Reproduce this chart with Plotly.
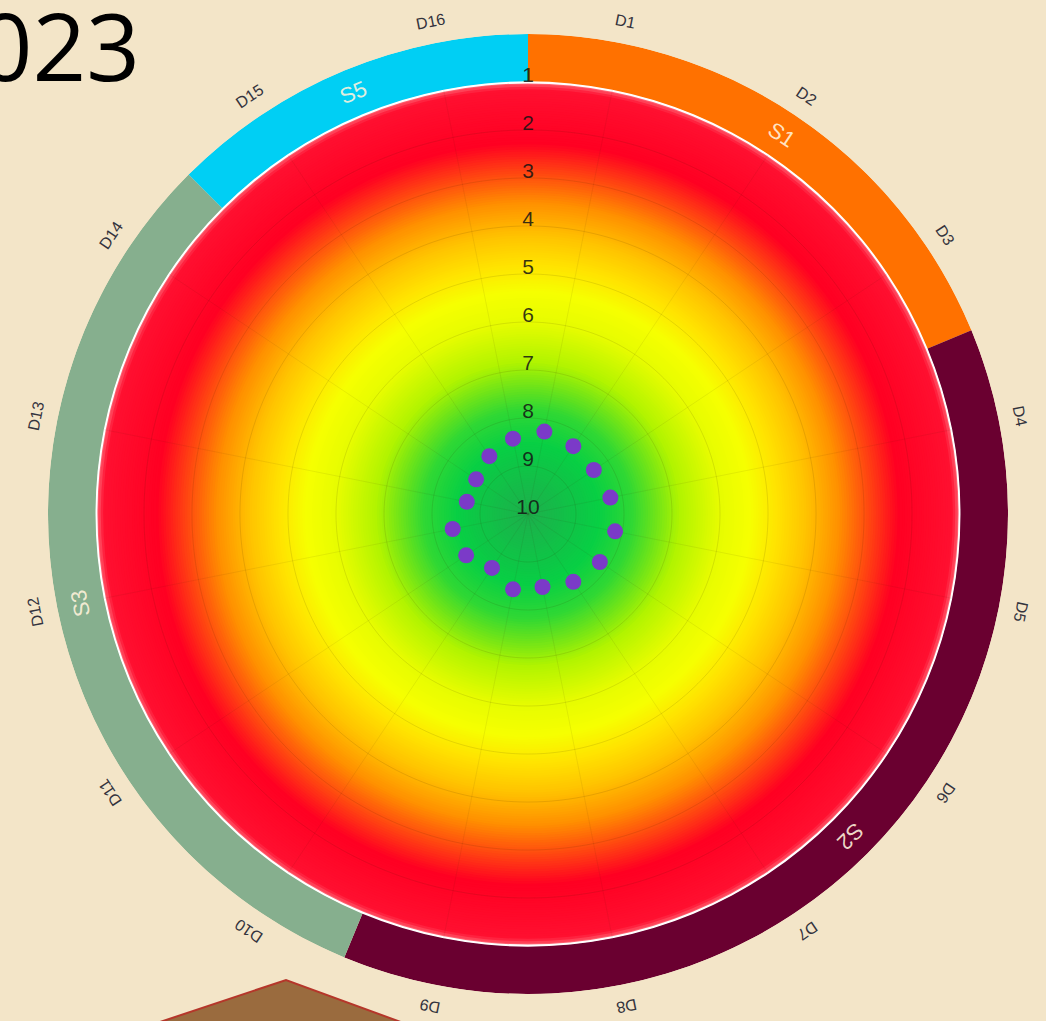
import numpy as np
import plotly.graph_objects as go

# ---------------- data ----------------
directions = [f"D{i}" for i in range(1, 17)]
scores = [8.25, 8.3, 8.35, 8.25, 8.15, 8.2, 8.3, 8.45, 8.4, 8.65, 8.45, 8.4, 8.7, 8.7, 8.55, 8.4]
sectors = ["S1", "S2", "S3", "S5"]
sector_sizes = [3, 6, 5, 2]          # number of directions per sector
radial_ticks = list(range(1, 11))
title_text = "2023"

# ---------------- styles ----------------
BG = "#f3e5c8"
sector_colors = ["#ff7100", "#6a0030", "#86af8e", "#00cff4"]
dot_color = "#7b3ac8"
gradient_stops = [  # (radial value, colour)
    (1.00, "#ff6070"),
    (1.13, "#ff1030"),
    (2.25, "#ff0022"),
    (2.90, "#ff4a10"),
    (3.50, "#ff9000"),
    (4.20, "#ffc400"),
    (4.80, "#ffe400"),
    (5.35, "#f6ff00"),
    (6.00, "#e6fc00"),
    (6.80, "#b2f400"),
    (7.30, "#70e418"),
    (7.80, "#30d834"),
    (8.50, "#08cf44"),
    (10.0, "#1eae4c"),
]
gradient_scale = [[(v - 1) / 9, c] for v, c in gradient_stops]

W, H = 1046, 1021
CX, CY, R = 528, 514, 480          # pixel centre and radius of the polar area
RMAX = 10                           # radial axis runs 10 (centre) -> 0 (edge)

n = len(directions)
step = 360 / n
theta_dirs = [(i + 0.5) * step for i in range(n)]

fig = go.Figure()

# radial colour gradient: thin full-circle rings
g_step = 0.05
g_vals = np.arange(1, 10, g_step)
g_r = np.minimum(g_step * 1.6, 10 - g_vals)
fig.add_trace(go.Barpolar(
    theta=[180] * len(g_vals), width=[360] * len(g_vals),
    base=g_vals, r=g_r,
    marker=dict(color=g_vals, colorscale=gradient_scale, cmin=1, cmax=10,
                line=dict(width=0)),
    hoverinfo="skip", showlegend=False,
))

# grid circles
circ_theta = np.linspace(0, 360, 361)
for t in radial_ticks[1:]:
    fig.add_trace(go.Scatterpolar(
        theta=circ_theta, r=[t] * len(circ_theta), mode="lines",
        line=dict(color="rgba(60,40,0,0.12)", width=1),
        hoverinfo="skip", showlegend=False,
    ))
# grid spokes
for th in theta_dirs:
    fig.add_trace(go.Scatterpolar(
        theta=[th, th], r=[radial_ticks[0], radial_ticks[-1]], mode="lines",
        line=dict(color="rgba(60,40,0,0.08)", width=1),
        hoverinfo="skip", showlegend=False,
    ))

# sector ring (r from 0 to 1)
starts = np.cumsum([0] + sector_sizes[:-1])
sec_theta = [(s + sz / 2) * step for s, sz in zip(starts, sector_sizes)]
sec_width = [sz * step for sz in sector_sizes]
fig.add_trace(go.Barpolar(
    theta=sec_theta, width=sec_width, base=[0] * len(sectors), r=[1] * len(sectors),
    marker=dict(color=sector_colors, line=dict(width=0)),
    hoverinfo="skip", showlegend=False,
))

# white separator ring
fig.add_trace(go.Barpolar(
    theta=[180], width=[360], base=[0.99], r=[0.04],
    marker=dict(color="white", line=dict(width=0)),
    hoverinfo="skip", showlegend=False,
))

# radial tick labels
fig.add_trace(go.Scatterpolar(
    theta=[0] * len(radial_ticks), r=[t - 0.1 for t in radial_ticks],
    mode="text", text=[str(t) for t in radial_ticks],
    textfont=dict(size=21, color="rgba(20,20,20,0.85)", family="Liberation Sans, Arial"),
    hoverinfo="skip", showlegend=False,
))

# data points
fig.add_trace(go.Scatterpolar(
    theta=theta_dirs, r=scores, mode="markers",
    marker=dict(size=16, color=dot_color),
    text=directions, hovertemplate="%{text}: %{r}<extra></extra>", showlegend=False,
))


def to_paper(theta_deg, rad_px):
    a = np.radians(theta_deg)
    x = CX + rad_px * np.sin(a)
    y = CY - rad_px * np.cos(a)
    return x / W, (H - y) / H


def tangential(theta_deg):
    a = theta_deg % 360
    return a - 360 if a > 180 else a


annotations = []
px_per_unit = R / RMAX
# direction labels outside the ring
for lab, th in zip(directions, theta_dirs):
    x, y = to_paper(th, R + 22)
    annotations.append(dict(
        x=x, y=y, xref="paper", yref="paper", text=lab, showarrow=False,
        textangle=tangential(th), xanchor="center", yanchor="middle",
        font=dict(size=16, color="#33333d", family="Liberation Sans, Arial"),
    ))
# sector labels inside ring
for lab, th in zip(sectors, sec_theta):
    x, y = to_paper(th, R - 0.5 * px_per_unit)
    annotations.append(dict(
        x=x, y=y, xref="paper", yref="paper", text=lab, showarrow=False,
        textangle=tangential(th), xanchor="center", yanchor="middle",
        font=dict(size=22, color="rgba(255,243,220,0.9)", family="Liberation Sans, Arial"),
    ))
# title (partly cut off at left edge)
annotations.append(dict(
    x=142 / W, y=(H - 45) / H, xref="paper", yref="paper", text=title_text,
    showarrow=False, xanchor="right", yanchor="middle",
    font=dict(size=94, color="black", family="Open Sans"),
))

# decorative shape at bottom
def pp(x, y):
    return f"{x / W:.5f},{(H - y) / H:.5f}"

shape_path = f"M {pp(130, 1032)} L {pp(286, 980)} L {pp(428, 1032)} Z"

fig.update_layout(
    width=W, height=H, autosize=False,
    margin=dict(l=0, r=0, t=0, b=0),
    paper_bgcolor=BG, plot_bgcolor=BG,
    showlegend=False,
    polar=dict(
        domain=dict(x=[(CX - R) / W, (CX + R) / W],
                    y=[(H - CY - R) / H, (H - CY + R) / H]),
        bgcolor=BG,
        barmode="overlay",
        radialaxis=dict(range=[RMAX, 0], showticklabels=False, showgrid=False,
                        showline=False, ticks=""),
        angularaxis=dict(rotation=90, direction="clockwise", showticklabels=False,
                         showgrid=False, showline=False, ticks=""),
    ),
    annotations=annotations,
    shapes=[dict(type="path", path=shape_path, xref="paper", yref="paper",
                 fillcolor="#9a6b3e", line=dict(color="#b5362a", width=2), layer="above")],
)

fig.write_html(
    "out.html",
    config={"displayModeBar": False},
    post_script=(
        f"document.body.style.margin='0';document.body.style.overflow='hidden';"
        f"document.body.style.background='{BG}';"
    ),
)
